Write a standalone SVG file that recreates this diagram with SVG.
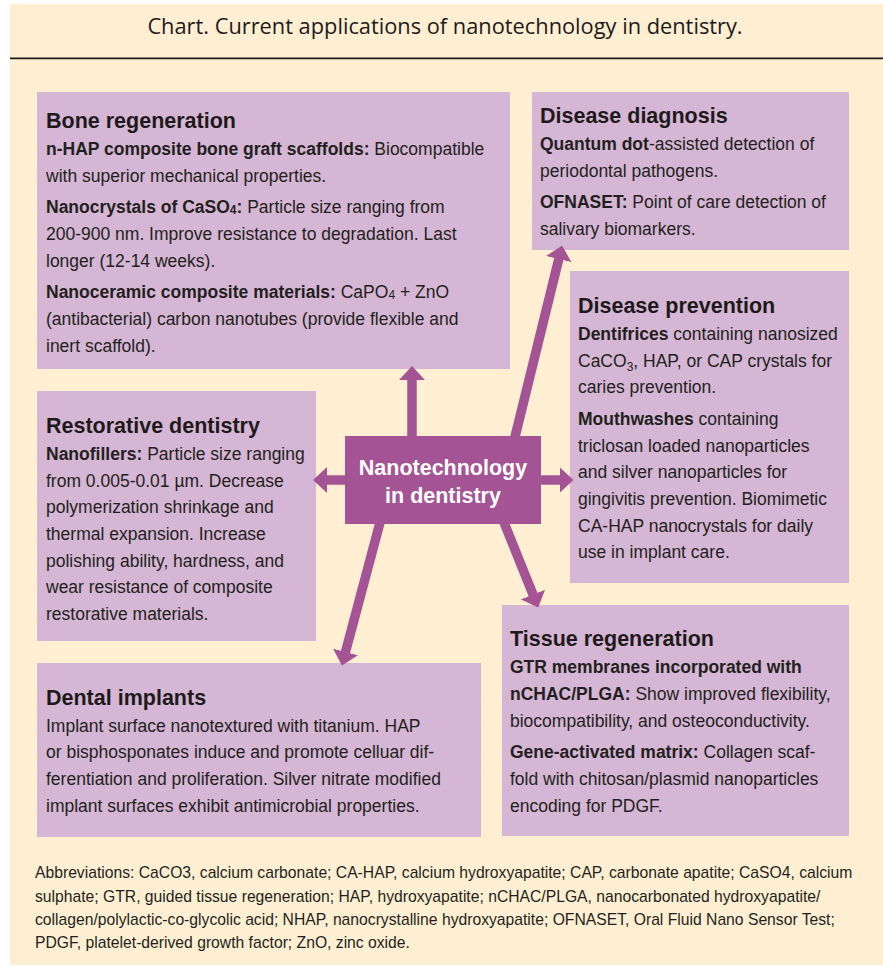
<svg xmlns="http://www.w3.org/2000/svg" width="883" height="966" viewBox="0 0 883 966">
<style>
.bg{fill:#FFEFD2}
.box{fill:#D5B6D4}
.hub{fill:#A45494}
.h{font-family:"Liberation Sans",Arial,sans-serif;font-weight:bold;font-size:21.5px;fill:#1E1A1B}
.t{font-family:"Liberation Sans",Arial,sans-serif;font-size:17.5px;fill:#231F20}
.t .b{font-weight:bold}
.sub{font-size:12px}
.title{font-family:"Open Sans","Liberation Sans",sans-serif;font-size:21.8px;fill:#1E1A1B}
.ab{font-family:"Liberation Sans",Arial,sans-serif;font-size:15.7px;fill:#231F20}
.hubt{font-family:"Liberation Sans",Arial,sans-serif;font-weight:bold;font-size:21.5px;fill:#FFFFFF}
.conn{stroke:#A45494;stroke-width:9.5;fill:none;stroke-linecap:butt}
</style>
<defs>
<marker id="ah" markerUnits="userSpaceOnUse" viewBox="0 0 14 26" refX="0.5" refY="13" markerWidth="14" markerHeight="26" orient="auto">
<path d="M0,0 L14,13 L0,26 z" fill="#A45494"/>
</marker>
</defs>
<rect x="0" y="0" width="883" height="966" fill="#FFFFFF"/>
<rect class="bg" x="10" y="4" width="873" height="961"/>
<text class="title" x="445" y="34" text-anchor="middle">Chart. Current applications of nanotechnology in dentistry.</text>
<line x1="10" y1="58.3" x2="883" y2="58.3" stroke="#1A1A1A" stroke-width="1.8"/>

<g id="bone-regeneration">
<rect class="box" x="37" y="92" width="473" height="277"/>
<text class="h" x="46" y="128">Bone regeneration</text>
<text class="t" x="46" y="155"><tspan class="b">n-HAP composite bone graft scaffolds:</tspan> Biocompatible</text>
<text class="t" x="46" y="182">with superior mechanical properties.</text>
<text class="t" x="46" y="213"><tspan class="b">Nanocrystals of CaSO<tspan class="sub" dy="1">4</tspan><tspan dy="-1">:</tspan></tspan> Particle size ranging from</text>
<text class="t" x="46" y="240">200-900 nm. Improve resistance to degradation. Last</text>
<text class="t" x="46" y="267">longer (12-14 weeks).</text>
<text class="t" x="46" y="298"><tspan class="b">Nanoceramic composite materials:</tspan> CaPO<tspan class="sub" dy="1">4</tspan><tspan dy="-1"> + ZnO</tspan></text>
<text class="t" x="46" y="325">(antibacterial) carbon nanotubes (provide flexible and</text>
<text class="t" x="46" y="352">inert scaffold).</text>
</g>

<g id="disease-diagnosis">
<rect class="box" x="532" y="92" width="317" height="158"/>
<text class="h" x="540" y="123">Disease diagnosis</text>
<text class="t" x="540" y="150"><tspan class="b">Quantum dot</tspan>-assisted detection of</text>
<text class="t" x="540" y="177">periodontal pathogens.</text>
<text class="t" x="540" y="208"><tspan class="b">OFNASET:</tspan> Point of care detection of</text>
<text class="t" x="540" y="235">salivary biomarkers.</text>
</g>

<g id="disease-prevention">
<rect class="box" x="570" y="271" width="279" height="312"/>
<text class="h" x="578" y="313">Disease prevention</text>
<text class="t" x="578" y="340"><tspan class="b">Dentifrices</tspan> containing nanosized</text>
<text class="t" x="578" y="367">CaCO<tspan class="sub" dy="4">3</tspan><tspan dy="-4">, HAP, or CAP crystals for</tspan></text>
<text class="t" x="578" y="393">caries prevention.</text>
<text class="t" x="578" y="425"><tspan class="b">Mouthwashes</tspan> containing</text>
<text class="t" x="578" y="452">triclosan loaded nanoparticles</text>
<text class="t" x="578" y="478">and silver nanoparticles for</text>
<text class="t" x="578" y="505">gingivitis prevention. Biomimetic</text>
<text class="t" x="578" y="532">CA-HAP nanocrystals for daily</text>
<text class="t" x="578" y="558">use in implant care.</text>
</g>

<g id="restorative-dentistry">
<rect class="box" x="37" y="391" width="279" height="250"/>
<text class="h" x="46" y="433">Restorative dentistry</text>
<text class="t" x="46" y="460"><tspan class="b">Nanofillers:</tspan> Particle size ranging</text>
<text class="t" x="46" y="487">from 0.005-0.01 µm. Decrease</text>
<text class="t" x="46" y="513">polymerization shrinkage and</text>
<text class="t" x="46" y="540">thermal expansion. Increase</text>
<text class="t" x="46" y="567">polishing ability, hardness, and</text>
<text class="t" x="46" y="593">wear resistance of composite</text>
<text class="t" x="46" y="620">restorative materials.</text>
</g>

<g id="dental-implants">
<rect class="box" x="37" y="663" width="444" height="174"/>
<text class="h" x="46" y="705">Dental implants</text>
<text class="t" x="46" y="732">Implant surface nanotextured with titanium. HAP</text>
<text class="t" x="46" y="758">or bisphosponates induce and promote celluar dif-</text>
<text class="t" x="46" y="785">ferentiation and proliferation. Silver nitrate modified</text>
<text class="t" x="46" y="812">implant surfaces exhibit antimicrobial properties.</text>
</g>

<g id="tissue-regeneration">
<rect class="box" x="502" y="605" width="347" height="231"/>
<text class="h" x="510" y="646">Tissue regeneration</text>
<text class="t" x="510" y="673"><tspan class="b">GTR membranes incorporated with</tspan></text>
<text class="t" x="510" y="700"><tspan class="b">nCHAC/PLGA:</tspan> Show improved flexibility,</text>
<text class="t" x="510" y="727">biocompatibility, and osteoconductivity.</text>
<text class="t" x="510" y="758"><tspan class="b">Gene-activated matrix:</tspan> Collagen scaf-</text>
<text class="t" x="510" y="785">fold with chitosan/plasmid nanoparticles</text>
<text class="t" x="510" y="812">encoding for PDGF.</text>
</g>

<g id="connectors">
<line class="conn" x1="412" y1="442" x2="412" y2="379.5" marker-end="url(#ah)"/>
<line class="conn" x1="350" y1="480" x2="326.5" y2="480" marker-end="url(#ah)"/>
<line class="conn" x1="536" y1="480" x2="560" y2="480" marker-end="url(#ah)"/>
<line class="conn" x1="513" y1="445" x2="558.9" y2="258.6" marker-end="url(#ah)"/>
<line class="conn" x1="501" y1="515" x2="533.2" y2="595" marker-end="url(#ah)"/>
<line class="conn" x1="382" y1="515" x2="345.4" y2="652.4" marker-end="url(#ah)"/>
</g>

<g id="nanotechnology-hub">
<rect class="hub" x="345" y="436" width="196" height="88"/>
<text class="hubt" x="443" y="475" text-anchor="middle">Nanotechnology</text>
<text class="hubt" x="443" y="503" text-anchor="middle">in dentistry</text>
</g>

<g id="abbreviations">
<text class="ab" x="35" y="878">Abbreviations: CaCO3, calcium carbonate; CA-HAP, calcium hydroxyapatite; CAP, carbonate apatite; CaSO4, calcium</text>
<text class="ab" x="35" y="902">sulphate; GTR, guided tissue regeneration; HAP, hydroxyapatite; nCHAC/PLGA, nanocarbonated hydroxyapatite/</text>
<text class="ab" x="35" y="925">collagen/polylactic-co-glycolic acid; NHAP, nanocrystalline hydroxyapatite; OFNASET, Oral Fluid Nano Sensor Test;</text>
<text class="ab" x="35" y="948">PDGF, platelet-derived growth factor; ZnO, zinc oxide.</text>
</g>
</svg>
